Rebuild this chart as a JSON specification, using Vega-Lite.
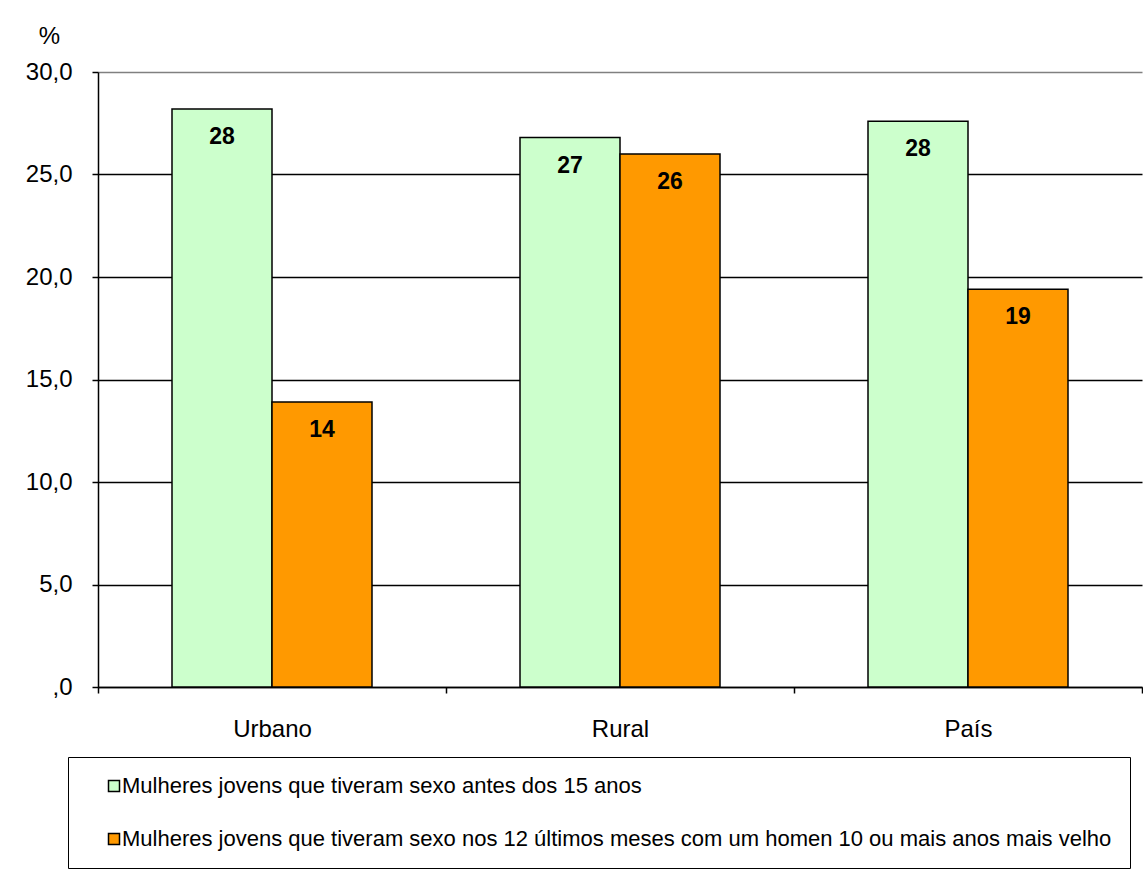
{
  "$schema": "https://vega.github.io/schema/vega-lite/v6.json",
  "width": 1044,
  "height": 615,
  "autosize": {"type": "none"},
  "padding": {"left": 98, "top": 72, "right": 1, "bottom": 191},
  "background": "white",
  "config": {
    "view": {"stroke": null},
    "font": "Liberation Sans",
    "axis": {"labelFont": "Liberation Sans", "titleFont": "Liberation Sans", "labelColor": "black", "titleColor": "black"},
    "legend": {"labelFont": "Liberation Sans"}
  },
  "data": {
    "values": [
      {"local": "Urbano", "serie": "Mulheres jovens que tiveram sexo antes dos 15 anos", "valor": 28.2},
      {"local": "Urbano", "serie": "Mulheres jovens que tiveram sexo nos 12 últimos meses com um homen 10 ou mais anos mais velho", "valor": 13.9},
      {"local": "Rural", "serie": "Mulheres jovens que tiveram sexo antes dos 15 anos", "valor": 26.8},
      {"local": "Rural", "serie": "Mulheres jovens que tiveram sexo nos 12 últimos meses com um homen 10 ou mais anos mais velho", "valor": 26.0},
      {"local": "País", "serie": "Mulheres jovens que tiveram sexo antes dos 15 anos", "valor": 27.6},
      {"local": "País", "serie": "Mulheres jovens que tiveram sexo nos 12 últimos meses com um homen 10 ou mais anos mais velho", "valor": 19.4}
    ]
  },
  "encoding": {
    "x": {
      "field": "local",
      "type": "nominal",
      "sort": ["Urbano", "Rural", "País"],
      "scale": {"paddingInner": 0, "paddingOuter": 0},
      "axis": {
        "title": null,
        "labelAngle": 0,
        "labelFontSize": 24,
        "labelPadding": 24,
        "tickBand": "extent",
        "tickSize": 6,
        "tickColor": "black",
        "domainColor": "black",
        "domainWidth": 1.5,
        "tickWidth": 1.5,
        "grid": false
      }
    },
    "xOffset": {
      "field": "serie",
      "type": "nominal",
      "sort": ["Mulheres jovens que tiveram sexo antes dos 15 anos", "Mulheres jovens que tiveram sexo nos 12 últimos meses com um homen 10 ou mais anos mais velho"],
      "scale": {"paddingInner": 0, "paddingOuter": 0.74}
    },
    "y": {
      "field": "valor",
      "type": "quantitative",
      "scale": {"domain": [0, 30], "nice": false},
      "axis": {
        "values": [0, 5, 10, 15, 20, 25, 30],
        "labelExpr": "datum.value == 0 ? ',0' : replace(format(datum.value, '.1f'), '.', ',')",
        "labelFontSize": 24,
        "labelPadding": 20,
        "tickSize": 6,
        "tickColor": "black",
        "tickWidth": 1.5,
        "domainColor": "black",
        "domainWidth": 1.5,
        "grid": true,
        "gridColor": {"condition": {"test": "datum.value == 30", "value": "#808080"}, "value": "black"},
        "gridWidth": 1.5,
        "gridOpacity": 1,
        "title": "%",
        "titleAngle": 0,
        "titleFontSize": 24,
        "titleFontWeight": "normal",
        "titleX": -49,
        "titleY": -36,
        "titleAlign": "center",
        "titleBaseline": "middle"
      }
    }
  },
  "layer": [
    {
      "mark": {"type": "bar", "stroke": "black", "strokeWidth": 1.5},
      "encoding": {
        "color": {
          "field": "serie",
          "type": "nominal",
          "sort": ["Mulheres jovens que tiveram sexo antes dos 15 anos", "Mulheres jovens que tiveram sexo nos 12 últimos meses com um homen 10 ou mais anos mais velho"],
          "scale": {
            "domain": ["Mulheres jovens que tiveram sexo antes dos 15 anos", "Mulheres jovens que tiveram sexo nos 12 últimos meses com um homen 10 ou mais anos mais velho"],
            "range": ["#CCFFCC", "#FF9900"]
          },
          "legend": {
            "title": null,
            "orient": "none",
            "legendX": -30,
            "legendY": 685,
            "direction": "vertical",
            "padding": 18,
            "strokeColor": "black",
            "fillColor": "white",
            "symbolType": "square",
            "symbolSize": 121,
            "symbolStrokeColor": "black",
            "symbolStrokeWidth": 1.5,
            "symbolOffset": 17,
            "labelFontSize": 22,
            "labelColor": "black",
            "labelOffset": -3,
            "labelLimit": 1200,
            "rowPadding": 31
          }
        }
      }
    },
    {
      "mark": {"type": "text", "dy": 28, "fontSize": 23, "fontWeight": "bold", "color": "black", "baseline": "middle"},
      "encoding": {
        "text": {"field": "valor", "type": "quantitative", "format": ".0f"}
      }
    }
  ]
}
